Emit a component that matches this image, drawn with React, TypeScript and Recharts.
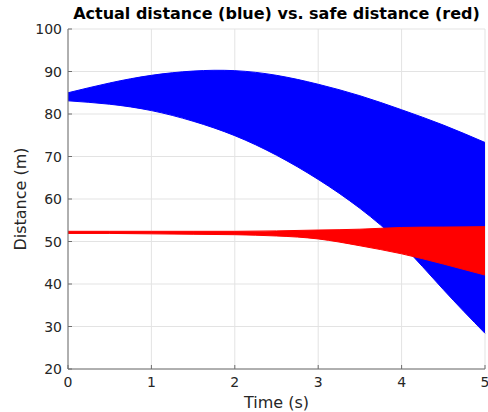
import { ComposedChart, Area, XAxis, YAxis, CartesianGrid } from 'recharts';

// time samples (s)
const TIME = [0, 0.5, 1, 1.5, 2, 2.5, 3, 3.5, 4, 4.5, 5];
// actual distance envelope (blue)
const BLUE_HIGH = [85.0, 87.3, 89.1, 90.1, 90.2, 89.1, 87.0, 84.3, 81.0, 77.4, 73.3];
const BLUE_LOW = [83.1, 82.3, 80.8, 78.3, 74.9, 70.3, 64.6, 57.8, 49.3, 38.7, 28.4];
// safe distance envelope (red)
const RED_HIGH = [52.4, 52.4, 52.4, 52.4, 52.4, 52.5, 52.7, 52.9, 53.3, 53.4, 53.5];
const RED_LOW = [51.9, 51.9, 51.8, 51.7, 51.6, 51.3, 50.6, 49.0, 47.1, 44.7, 42.1];

const X_TICKS = [0, 1, 2, 3, 4, 5];
const Y_TICKS = [20, 30, 40, 50, 60, 70, 80, 90, 100];

const FONT = '"DejaVu Sans", sans-serif';
const AXIS = '#6e6e6e';
const TEXT = '#262626';

const data = TIME.map((t, i) => ({
  t,
  blue: [BLUE_LOW[i], BLUE_HIGH[i]],
  red: [RED_LOW[i], RED_HIGH[i]],
}));

const BottomTick = ({ x, y, payload }: any) => (
  <g>
    <line x1={x} x2={x} y1={y} y2={y - 4} stroke={AXIS} />
    <text x={x} y={y + 18} textAnchor="middle" fontSize={14} fill={TEXT} fontFamily={FONT}>
      {payload.value}
    </text>
  </g>
);

const TopTick = ({ x, y }: any) => <line x1={x} x2={x} y1={y} y2={y + 4} stroke={AXIS} />;

const LeftTick = ({ x, y, payload }: any) => (
  <g>
    <line x1={x} x2={x + 4} y1={y} y2={y} stroke={AXIS} />
    <text x={x - 6} y={y + 5} textAnchor="end" fontSize={14} fill={TEXT} fontFamily={FONT}>
      {payload.value}
    </text>
  </g>
);

const RightTick = ({ x, y }: any) => <line x1={x} x2={x - 4} y1={y} y2={y} stroke={AXIS} />;

export default function App() {
  return (
    <div style={{ position: 'absolute', left: 0, top: 0, width: 488, height: 412, background: '#fff', fontFamily: FONT }}>
      <ComposedChart width={488} height={412} data={data} margin={{ top: 29, right: 3, bottom: 0, left: 0 }}>
        <CartesianGrid stroke="#e3e3e3" horizontalValues={Y_TICKS} verticalValues={X_TICKS} />
        <XAxis
          dataKey="t"
          type="number"
          domain={[0, 5]}
          ticks={X_TICKS}
          height={43}
          tickSize={0}
          tickMargin={0}
          tick={<BottomTick />}
          axisLine={{ stroke: AXIS }}
          tickLine={false}
          interval={0}
        />
        <XAxis
          xAxisId="top"
          orientation="top"
          dataKey="t"
          type="number"
          domain={[0, 5]}
          ticks={X_TICKS}
          height={0}
          tickSize={0}
          tickMargin={0}
          tick={<TopTick />}
          axisLine={{ stroke: AXIS }}
          tickLine={false}
          interval={0}
        />
        <YAxis
          type="number"
          domain={[20, 100]}
          ticks={Y_TICKS}
          width={68}
          tickSize={0}
          tickMargin={0}
          tick={<LeftTick />}
          axisLine={{ stroke: AXIS }}
          tickLine={false}
          interval={0}
        />
        <YAxis
          yAxisId="right"
          orientation="right"
          type="number"
          domain={[20, 100]}
          ticks={Y_TICKS}
          width={0}
          tickSize={0}
          tickMargin={0}
          tick={<RightTick />}
          axisLine={{ stroke: AXIS }}
          tickLine={false}
          interval={0}
        />
        <Area
          type="natural"
          dataKey="blue"
          stroke="#0000ff"
          strokeWidth={1}
          fill="#0000ff"
          fillOpacity={1}
          isAnimationActive={false}
          dot={false}
          activeDot={false}
        />
        <Area
          type="natural"
          dataKey="red"
          stroke="#ff0000"
          strokeWidth={1}
          fill="#ff0000"
          fillOpacity={1}
          isAnimationActive={false}
          dot={false}
          activeDot={false}
        />
      </ComposedChart>
      <div style={{ position: 'absolute', left: 0, width: 553, top: 4, textAlign: 'center', fontSize: 16, fontWeight: 'bold', color: '#000', whiteSpace: 'nowrap', lineHeight: '19px' }}>
        Actual distance (blue) vs. safe distance (red)
      </div>
      <div style={{ position: 'absolute', left: 0, width: 553, top: 393, textAlign: 'center', fontSize: 16, color: TEXT, lineHeight: '19px' }}>
        Time (s)
      </div>
      <div
        style={{
          position: 'absolute',
          left: 20,
          top: 199,
          transform: 'translate(-50%, -50%) rotate(-90deg)',
          fontSize: 16,
          color: TEXT,
          whiteSpace: 'nowrap',
          lineHeight: '19px',
        }}
      >
        Distance (m)
      </div>
    </div>
  );
}
